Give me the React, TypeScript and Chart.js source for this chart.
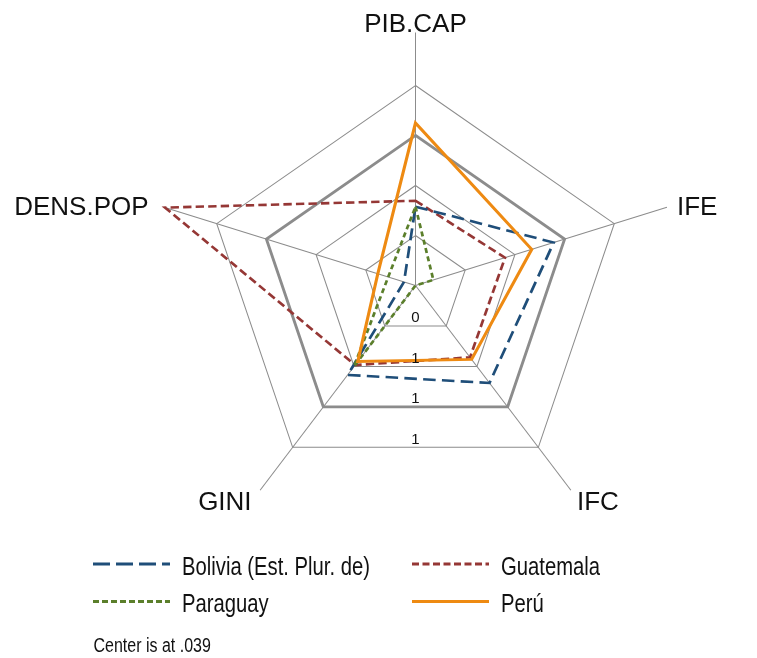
import React, { useEffect, useRef } from 'react';
import { Chart, registerables } from 'chart.js';

Chart.register(...registerables);

// ---- data ----
const axisLabels = ['PIB.CAP', 'IFE', 'IFC', 'GINI', 'DENS.POP'];
const seriesNames = ['Bolivia (Est. Plur. de)', 'Guatemala', 'Paraguay', 'Perú'];
const bolivia = [0.544, 0.93, 0.811, 0.747, 0.113];
const guatemala = [0.582, 0.616, 0.608, 0.669, 1.653];
const paraguay = [0.544, 0.154, 0.039, 0.682, 0.215];
const peru = [1.08, 0.788, 0.624, 0.641, 0.282];
const ringValues = [0.039, 0.3593, 0.6797, 1.0, 1.3203];
const ringLabels = ['', '0', '1', '1', '1'];
const scaleMin = 0.039;
const scaleMax = 1.6598;
const centerNote = 'Center is at .039';

// ---- styles / layout ----
const FONT = '"Liberation Sans", Arial, Helvetica, sans-serif';
const SX = 1.045; // horizontal stretch of the original plot
const seriesStyles = [
  { color: '#1F4E79', dash: [12, 6], legendDash: [17, 6], width: 2.6 },
  { color: '#953735', dash: [8, 4], legendDash: [7, 3.5], width: 2.6 },
  { color: '#5B7F2B', dash: [5, 3.5], legendDash: [6, 3], width: 2.6 },
  { color: '#EE8A12', dash: [] as number[], legendDash: [] as number[], width: 3 },
];
const legendPos = [
  { x: 93, y: 564, tx: 182, ty: 575 },
  { x: 412, y: 564, tx: 501, ty: 575 },
  { x: 93, y: 601.5, tx: 182, ty: 612 },
  { x: 412, y: 601.5, tx: 501, ty: 612 },
];
const labelOffsets = [
  { dx: 0, dy: -0.5, align: 'center' },
  { dx: 10, dy: 8, align: 'left' },
  { dx: 6, dy: 20, align: 'left' },
  { dx: -8.5, dy: 20, align: 'right' },
  { dx: -15.5, dy: 8, align: 'right' },
];

const overlayPlugin = {
  id: 'overlay',
  beforeDraw(chart: any) {
    const ctx = chart.ctx;
    const s = chart.scales.r;
    ctx.save();
    ctx.translate(s.xCenter + 0.5, 0.5);
    ctx.scale(SX, 1);
    ctx.translate(-s.xCenter, 0);
  },
  afterDraw(chart: any) {
    const ctx = chart.ctx;
    ctx.restore();
    const s = chart.scales.r;
    const cx = s.xCenter + 0.5;
    const cy = s.yCenter + 0.5;

    // axis labels
    ctx.save();
    ctx.fillStyle = '#111';
    ctx.font = `26px ${FONT}`;
    ctx.textBaseline = 'alphabetic';
    axisLabels.forEach((lab, i) => {
      const p = s.getPointPosition(i, s.drawingArea);
      const px = cx + (p.x - s.xCenter) * SX;
      const py = cy + (p.y - s.yCenter);
      const o = labelOffsets[i];
      ctx.textAlign = o.align;
      ctx.fillText(lab, px + o.dx, py + o.dy);
    });

    // ring labels (below center)
    ctx.font = `15px ${FONT}`;
    ctx.textAlign = 'center';
    ringValues.forEach((v, i) => {
      if (!ringLabels[i]) return;
      const r = s.getDistanceFromCenterForValue(v);
      ctx.fillText(ringLabels[i], cx, cy + Math.cos(Math.PI / 5) * r - 3.5);
    });
    ctx.restore();

    // legend
    seriesNames.forEach((name, i) => {
      const st = seriesStyles[i];
      const lp = legendPos[i];
      ctx.save();
      ctx.strokeStyle = st.color;
      ctx.lineWidth = 3;
      ctx.setLineDash(st.legendDash);
      ctx.beginPath();
      ctx.moveTo(lp.x, lp.y);
      ctx.lineTo(lp.x + 77, lp.y);
      ctx.stroke();
      ctx.restore();
      ctx.save();
      ctx.fillStyle = '#111';
      ctx.font = `25px ${FONT}`;
      ctx.textAlign = 'left';
      ctx.textBaseline = 'alphabetic';
      ctx.translate(lp.tx, lp.ty);
      ctx.scale(0.81, 1);
      ctx.fillText(name, 0, 0);
      ctx.restore();
    });

    // caption
    ctx.save();
    ctx.fillStyle = '#111';
    ctx.font = `20px ${FONT}`;
    ctx.textAlign = 'left';
    ctx.textBaseline = 'alphabetic';
    ctx.translate(93.5, 651.5);
    ctx.scale(0.8, 1);
    ctx.fillText(centerNote, 0, 0);
    ctx.restore();
  },
};

export default function App() {
  const ref = useRef<HTMLCanvasElement | null>(null);

  useEffect(() => {
    document.body.style.margin = '0';
    const canvas = ref.current;
    if (!canvas) return;
    const series = [bolivia, guatemala, paraguay, peru];
    const orders = [2, 3, 1, 0];
    const chart = new Chart(canvas, {
      type: 'radar',
      data: {
        labels: axisLabels,
        datasets: series.map((d, i) => ({
          label: seriesNames[i],
          data: d,
          borderColor: seriesStyles[i].color,
          borderWidth: seriesStyles[i].width,
          borderDash: seriesStyles[i].dash,
          backgroundColor: 'rgba(0,0,0,0)',
          fill: false,
          pointRadius: 0,
          pointHoverRadius: 0,
          tension: 0,
          clip: false,
          order: orders[i],
        })),
      },
      options: {
        responsive: false,
        animation: false,
        devicePixelRatio: 1,
        layout: { padding: { left: 162, top: 32, right: 89, bottom: 120 } },
        plugins: {
          legend: { display: false },
          title: { display: false },
          tooltip: { enabled: false },
        },
        scales: {
          r: {
            min: scaleMin,
            max: scaleMax,
            startAngle: 0,
            afterBuildTicks: (scale: any) => {
              scale.ticks = ringValues.map((v) => ({ value: v }));
            },
            ticks: { display: false },
            pointLabels: { display: false },
            angleLines: { display: true, color: '#8c8c8c', lineWidth: 1 },
            grid: {
              circular: false,
              color: '#8c8c8c',
              lineWidth: (c: any) => (c.index === 3 ? 2.8 : 1),
            },
          },
        },
      },
      plugins: [overlayPlugin],
    } as any);
    return () => chart.destroy();
  }, []);

  return (
    <canvas
      ref={ref}
      width={757}
      height={658}
      style={{ display: 'block', width: 757, height: 658 }}
    />
  );
}
